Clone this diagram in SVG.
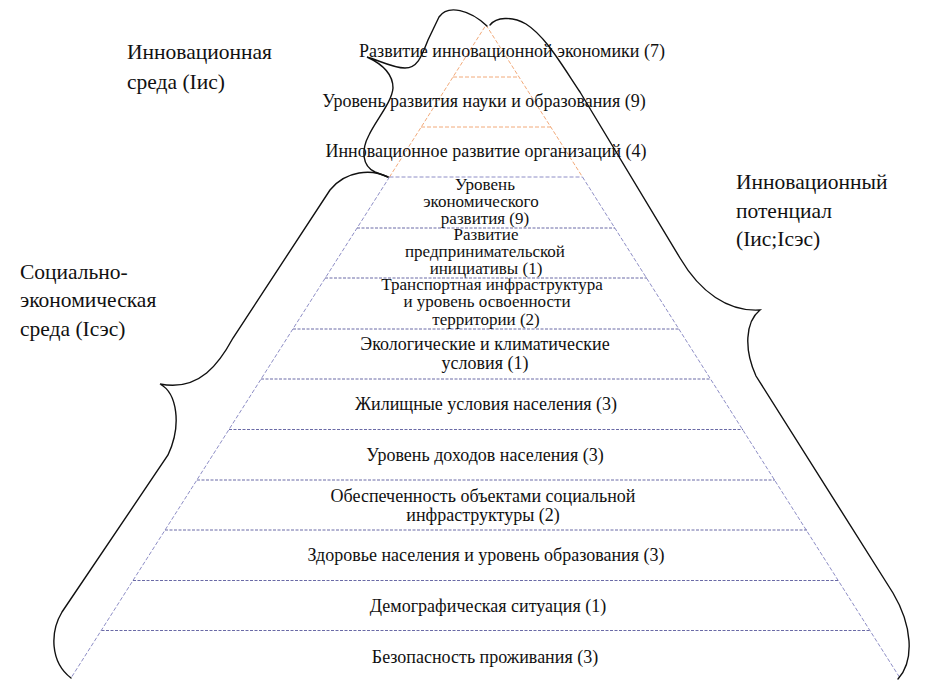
<svg xmlns="http://www.w3.org/2000/svg" width="944" height="695" viewBox="0 0 944 695">
<style>
.lv{font-family:'Liberation Serif','Times New Roman',serif;font-size:18px;text-anchor:middle;fill:#111}
.sm{font-size:17px}
.lb{font-family:'Liberation Serif','Times New Roman',serif;font-size:21.5px;fill:#111}
.or{stroke:#F2AA7A;stroke-width:1;stroke-dasharray:4 2;fill:none}
.ps{stroke:#8E8EC6;stroke-width:1;stroke-dasharray:4 2;fill:none}
.ph{stroke:#6A6AA6;stroke-width:1;stroke-dasharray:3 1.5;fill:none}
.br{stroke:#111;stroke-width:1.4;fill:none;stroke-linecap:round}
</style>
<rect width="944" height="695" fill="#fff"/>
<g id="pyramid">
<path class="or" d="M389.5,177 L486,25 L582.5,177"/>
<line class="or" x1="453" y1="77" x2="519" y2="77"/>
<line class="or" x1="421" y1="127" x2="551" y2="127"/>
<path class="ps" d="M389.5,177 L71,678"/>
<path class="ps" d="M582.5,177 L900,678"/>
<line class="ps" x1="389.5" y1="177" x2="582.5" y2="177" stroke="#A882B8"/>
<line class="ph" x1="357" y1="228" x2="615" y2="228"/>
<line class="ph" x1="325" y1="278" x2="647" y2="278"/>
<line class="ph" x1="293" y1="329" x2="679" y2="329"/>
<line class="ph" x1="261" y1="379" x2="711" y2="379"/>
<line class="ph" x1="229" y1="429.5" x2="743" y2="429.5"/>
<line class="ph" x1="197" y1="480" x2="775" y2="480"/>
<line class="ph" x1="165" y1="530" x2="807" y2="530"/>
<line class="ph" x1="133" y1="580.5" x2="839" y2="580.5"/>
<line class="ph" x1="101.5" y1="630.5" x2="870.5" y2="630.5"/>
</g>
<g id="connectors">
<path class="br" d="M487,26 C470,10 448,4 439,17 L428,40 C422,55 418,68 405,68 C393,68 378,60 367,57 C380,63 393,72 393,88 C392,102 376,120 369,135 C361,150 362,166 375,172 L388,177"/>
<path class="br" d="M388,177 C372,169 346,170 330,190 L233,338 C220,362 200,392 160,384 C177,393 182,425 168,455 L62,612 C50,632 50,662 71,678"/>
<path class="br" d="M490,25 C496,17 512,16 526,24 C545,36 560,62 580,92 L680,258 C700,292 728,312 760,310 C745,322 744,350 756,376 L893,593 C912,625 915,660 898,679"/>
</g>
<g id="label-ic"><text class="lb" x="127" y="59">Инновационная</text><text class="lb" x="127" y="89">среда (Iис)</text></g>
<g id="label-sec"><text class="lb" x="20" y="279">Социально-</text><text class="lb" x="20" y="307">экономическая</text><text class="lb" x="20" y="336">среда (Iсэс)</text></g>
<g id="label-ip"><text class="lb" x="736" y="189">Инновационный</text><text class="lb" x="736" y="218">потенциал</text><text class="lb" x="736" y="246">(Iис;Iсэс)</text></g>
<g id="level-1"><text class="lv" x="512" y="57">Развитие инновационной экономики (7)</text></g>
<g id="level-2"><text class="lv" x="484" y="107">Уровень развития науки и образования (9)</text></g>
<g id="level-3"><text class="lv" x="486" y="157">Инновационное развитие организаций (4)</text></g>
<g id="level-4"><text class="lv sm" x="485" y="190">Уровень</text><text class="lv sm" x="481" y="207">экономического</text><text class="lv sm" x="485" y="224">развития (9)</text></g>
<g id="level-5"><text class="lv sm" x="486" y="240">Развитие</text><text class="lv sm" x="485" y="257">предпринимательской</text><text class="lv sm" x="486" y="274">инициативы (1)</text></g>
<g id="level-6"><text class="lv sm" x="492" y="290">Транспортная инфраструктура</text><text class="lv sm" x="487" y="307">и уровень освоенности</text><text class="lv sm" x="486" y="325">территории (2)</text></g>
<g id="level-7"><text class="lv" x="485" y="350">Экологические и климатические</text><text class="lv" x="485" y="369">условия (1)</text></g>
<g id="level-8"><text class="lv" x="486" y="410">Жилищные условия населения (3)</text></g>
<g id="level-9"><text class="lv" x="485" y="461">Уровень доходов населения (3)</text></g>
<g id="level-10"><text class="lv" x="483" y="502">Обеспеченность объектами социальной</text><text class="lv" x="483" y="521">инфраструктуры (2)</text></g>
<g id="level-11"><text class="lv" x="486" y="561">Здоровье населения и уровень образования (3)</text></g>
<g id="level-12"><text class="lv" x="488" y="612">Демографическая ситуация (1)</text></g>
<g id="level-13"><text class="lv" x="485" y="663">Безопасность проживания (3)</text></g>
</svg>
